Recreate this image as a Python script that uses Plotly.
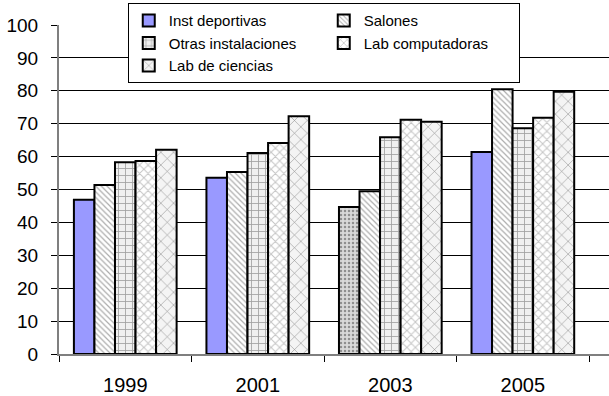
import plotly.graph_objects as go

years = ["1999", "2001", "2003", "2005"]

inst_deportivas = [46.9, 53.6, 44.7, 61.4]
salones = [51.4, 55.3, 49.5, 80.5]
otras_instalaciones = [58.3, 61.1, 65.9, 68.6]
lab_computadoras = [58.7, 64.1, 71.2, 71.8]
lab_ciencias = [62.1, 72.3, 70.6, 79.7]

series_names = ["Inst deportivas", "Salones", "Otras instalaciones",
                "Lab computadoras", "Lab de ciencias"]

FONT = "Liberation Sans, Arial, sans-serif"
OUTLINE = dict(color="black", width=2)

fig = go.Figure()

# Solid periwinkle bars; the 2003 point carries a grey dotted fill
fig.add_trace(go.Bar(
    name=series_names[0], x=years, y=inst_deportivas,
    marker=dict(
        color=["#9999FF", "#9999FF", "#d9d9d9", "#9999FF"],
        line=OUTLINE,
        pattern=dict(shape=["", "", ".", ""],
                     fgcolor="#9a9a9a", bgcolor="#e6e6e6",
                     size=4, solidity=0.3),
    ),
))

fig.add_trace(go.Bar(
    name=series_names[1], x=years, y=salones,
    marker=dict(color="white", line=OUTLINE,
                pattern=dict(shape="\\", fgcolor="#5a5a5a", bgcolor="white",
                             size=4, solidity=0.3)),
))

fig.add_trace(go.Bar(
    name=series_names[2], x=years, y=otras_instalaciones,
    marker=dict(color="white", line=OUTLINE,
                pattern=dict(shape="+", fgcolor="#4d4d4d", bgcolor="#f0f0f0",
                             size=7, solidity=0.22)),
))

fig.add_trace(go.Bar(
    name=series_names[3], x=years, y=lab_computadoras,
    marker=dict(color="white", line=OUTLINE,
                pattern=dict(shape="x", fgcolor="#8a8a8a", bgcolor="white",
                             size=6, solidity=0.3)),
))

fig.add_trace(go.Bar(
    name=series_names[4], x=years, y=lab_ciencias,
    marker=dict(color="white", line=OUTLINE,
                pattern=dict(shape="x", fgcolor="#222222", bgcolor="#f4f4f4",
                             size=9, solidity=0.12)),
))

fig.update_layout(
    width=609, height=396,
    margin=dict(l=59, r=0, t=25, b=42),
    paper_bgcolor="white", plot_bgcolor="white",
    barmode="group", bargap=0.225, bargroupgap=0,
    font=dict(family=FONT, size=18, color="black"),
    showlegend=True,
    legend=dict(
        orientation="h",
        x=0.125, xanchor="left",
        y=1.066, yanchor="top",
        bgcolor="white", bordercolor="black", borderwidth=1,
        font=dict(family=FONT, size=15),
        entrywidth=150, entrywidthmode="pixels",
        traceorder="normal",
        itemwidth=30,
    ),
)

fig.update_xaxes(
    type="category",
    range=[-0.5, 3.65],
    tickson="boundaries",
    ticks="outside", ticklen=6, tickcolor="black", tickwidth=1,
    ticklabelstandoff=12,
    showline=True, linecolor="#7f7f7f", linewidth=2,
    showgrid=False,
    automargin=False,
    tickfont=dict(size=20),
)

fig.update_yaxes(
    range=[0, 100],
    tickvals=list(range(0, 101, 10)),
    ticks="outside", ticklen=6, tickcolor="black", tickwidth=1,
    ticklabelstandoff=9,
    showline=True, linecolor="#7f7f7f", linewidth=2,
    showgrid=True, gridcolor="black", gridwidth=1,
    zeroline=False,
    automargin=False,
    tickfont=dict(size=19),
)

fig.write_html("out.html")
